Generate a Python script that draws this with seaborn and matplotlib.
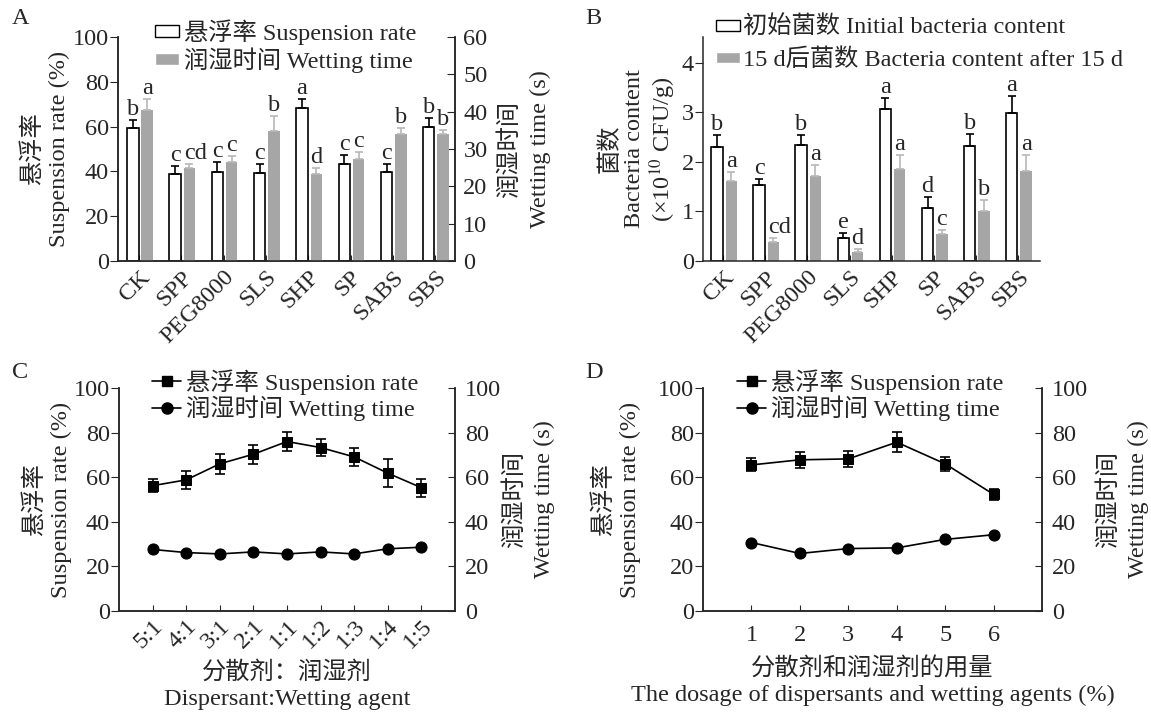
import numpy as np
import pandas as pd
import seaborn as sns
import matplotlib.pyplot as plt
from matplotlib.patches import Patch
from matplotlib.lines import Line2D

# Panel A / B categories
agents = ["CK", "SPP", "PEG8000", "SLS", "SHP", "SP", "SABS", "SBS"]

# A - suspension rate (%) and wetting time (s)
susp_a = [59.2, 38.7, 39.7, 39.3, 68.2, 43.2, 39.7, 59.6]
susp_a_err = [3.6, 3.7, 4.5, 3.9, 4.3, 4.0, 3.5, 4.2]
susp_a_let = ["b", "c", "c", "c", "a", "c", "c", "b"]
wet_a = [40.4, 24.9, 26.4, 34.9, 23.3, 27.4, 34.0, 34.0]
wet_a_err = [2.9, 1.0, 1.7, 4.0, 1.5, 1.9, 1.5, 1.2]
wet_a_let = ["a", "cd", "c", "b", "d", "c", "b", "b"]

# B - bacteria content (x10^10 CFU/g)
bact_init = [2.31, 1.53, 2.35, 0.47, 3.06, 1.06, 2.33, 2.98]
bact_init_err = [0.24, 0.13, 0.20, 0.10, 0.23, 0.24, 0.24, 0.34]
bact_init_let = ["b", "c", "b", "e", "a", "d", "b", "a"]
bact_15d = [1.61, 0.38, 1.71, 0.18, 1.86, 0.54, 1.00, 1.81]
bact_15d_err = [0.19, 0.08, 0.22, 0.07, 0.27, 0.08, 0.24, 0.32]
bact_15d_let = ["a", "cd", "a", "d", "a", "c", "b", "a"]

# C - dispersant : wetting agent ratio
ratios = ["5:1", "4:1", "3:1", "2:1", "1:1", "1:2", "1:3", "1:4", "1:5"]
susp_c = [56.2, 58.8, 66.0, 70.3, 76.0, 73.3, 69.1, 61.8, 55.3]
susp_c_err = [3.0, 4.2, 4.6, 4.3, 4.2, 3.8, 4.0, 6.2, 4.0]
wet_c = [27.6, 26.2, 25.6, 26.5, 25.6, 26.5, 25.6, 27.9, 28.6]

# D - dosage (%)
dosage = [1, 2, 3, 4, 5, 6]
susp_d = [65.5, 67.8, 68.2, 75.7, 66.0, 52.3]
susp_d_err = [2.9, 3.7, 3.6, 4.4, 3.1, 2.3]
wet_d = [30.7, 25.8, 28.0, 28.3, 32.1, 34.2]

sns.set_style("ticks")
plt.rcParams["font.family"] = ["Liberation Serif", "Noto Sans CJK SC"]
plt.rcParams["mathtext.fontset"] = "stix"
plt.rcParams["font.size"] = 17.5
plt.rcParams["axes.linewidth"] = 1.1

GRAY = "#a6a6a6"
FS = 17.5

fig = plt.figure(figsize=(11.51, 7.13), dpi=100)
W, H = 1151, 713


def px_axes(left, top, right, bottom):
    return fig.add_axes([left / W, 1 - bottom / H, (right - left) / W, (bottom - top) / H])


def letters(ax, xs, tops, labs, half):
    # single letters centred on the bar, two-letter ones start at the bar's left edge
    for x, t, lab in zip(xs, tops, labs):
        if len(lab) > 1:
            ax.annotate(lab, (x - half, t), xytext=(0, 0), textcoords="offset points",
                        ha="left", va="bottom", fontsize=FS)
        else:
            ax.annotate(lab, (x, t), xytext=(0, 0), textcoords="offset points",
                        ha="center", va="bottom", fontsize=FS)


idx = np.arange(len(agents))
off_w, off_g, bw = -0.15, 0.19, 0.27

# ---------- A ----------
axA = px_axes(118, 37, 455, 261)
sns.barplot(x=idx + off_w, y=susp_a, native_scale=True, width=bw, color="white",
            saturation=1, edgecolor="black", linewidth=1.2, errorbar=None, ax=axA)
axA.errorbar(idx + off_w, susp_a, yerr=[np.zeros(8), susp_a_err], fmt="none",
             ecolor="black", elinewidth=1.2, capsize=3, capthick=1.2)
axA.set_ylim(0, 100)
axA.set_yticks(range(0, 101, 20))
axA.set_xlim(-0.5, 7.47)
axA.set_xticks(idx)
axA.set_xticklabels(agents, rotation=45, ha="right", rotation_mode="anchor")
axA.set_ylabel("悬浮率\nSuspension rate (%)", linespacing=1.3, labelpad=2)
letters(axA, idx + off_w, np.array(susp_a) + np.array(susp_a_err), susp_a_let, bw / 2)

axA2 = axA.twinx()
sns.barplot(x=idx + off_g, y=wet_a, native_scale=True, width=bw, color=GRAY,
            saturation=1, linewidth=0, errorbar=None, ax=axA2)
axA2.errorbar(idx + off_g, wet_a, yerr=[np.zeros(8), wet_a_err], fmt="none",
              ecolor="#b8b8b8", elinewidth=1.2, capsize=3, capthick=1.2)
axA2.set_ylim(0, 60)
axA2.set_yticks(range(0, 61, 10))
axA2.set_xlim(-0.5, 7.47)
axA2.set_xticks(idx)
axA2.set_ylabel("润湿时间\nWetting time (s)", rotation=90, linespacing=1.55, labelpad=8)
letters(axA2, idx + off_g, np.array(wet_a) + np.array(wet_a_err), wet_a_let, bw / 2)

for a in (axA, axA2):
    a.spines["top"].set_visible(False)
axA.tick_params(axis="y", direction="out", length=6, labelsize=FS, pad=0.5)
axA.tick_params(axis="x", direction="in", length=4, labelsize=FS, pad=4)
axA2.tick_params(axis="y", direction="in", length=6, labelsize=FS, pad=6)
axA2.legend([Patch(facecolor="white", edgecolor="black"), Patch(facecolor=GRAY)],
            ["悬浮率 Suspension rate", "润湿时间 Wetting time"],
            loc="upper left", bbox_to_anchor=(155 / W, 1 - 19 / H), bbox_transform=fig.transFigure,
            frameon=False, fontsize=FS, handlelength=1.0, handleheight=0.35,
            handletextpad=0.2, labelspacing=0.1, borderpad=0, borderaxespad=0)

# ---------- B ----------
axB = px_axes(703, 37, 1040, 261)
sns.barplot(x=idx + off_w, y=bact_init, native_scale=True, width=bw, color="white",
            saturation=1, edgecolor="black", linewidth=1.2, errorbar=None, ax=axB)
axB.errorbar(idx + off_w, bact_init, yerr=[np.zeros(8), bact_init_err], fmt="none",
             ecolor="black", elinewidth=1.2, capsize=3, capthick=1.2)
sns.barplot(x=idx + off_g, y=bact_15d, native_scale=True, width=bw, color=GRAY,
            saturation=1, linewidth=0, errorbar=None, ax=axB)
axB.errorbar(idx + off_g, bact_15d, yerr=[np.zeros(8), bact_15d_err], fmt="none",
             ecolor="#b8b8b8", elinewidth=1.2, capsize=3, capthick=1.2)
axB.set_ylim(0, 4.52)
axB.set_yticks(range(0, 5))
axB.set_xlim(-0.48, 7.52)
axB.set_xticks(idx)
axB.set_xticklabels(agents, rotation=45, ha="right", rotation_mode="anchor")
axB.set_ylabel("菌数\nBacteria content\n(×10$^{10}$ CFU/g)", linespacing=1.1, labelpad=3)
letters(axB, idx + off_w, np.array(bact_init) + np.array(bact_init_err), bact_init_let, bw / 2)
letters(axB, idx + off_g, np.array(bact_15d) + np.array(bact_15d_err), bact_15d_let, bw / 2)
axB.spines["top"].set_visible(False)
axB.spines["right"].set_visible(False)
axB.tick_params(axis="y", direction="out", length=6, labelsize=FS, pad=0.5)
axB.tick_params(axis="x", direction="in", length=4, labelsize=FS, pad=4)
axB.legend([Patch(facecolor="white", edgecolor="black"), Patch(facecolor=GRAY)],
           ["初始菌数 Initial bacteria content", "15 d后菌数 Bacteria content after 15 d"],
           loc="upper left", bbox_to_anchor=(716 / W, 1 - 16 / H), bbox_transform=fig.transFigure,
           frameon=False, fontsize=FS, handlelength=1.0, handleheight=0.35,
           handletextpad=0.1, labelspacing=0.4, borderpad=0, borderaxespad=0)


# ---------- C and D (line charts) ----------
def line_panel(ax, xs, susp, susp_err, wet, xlim, lpad, rpad):
    sns.lineplot(x=xs, y=susp, marker="s", markersize=7, color="black", linewidth=1.2,
                 markeredgecolor="black", ax=ax)
    ax.errorbar(xs, susp, yerr=susp_err, fmt="none", ecolor="black",
                elinewidth=1.2, capsize=3.5, capthick=1.2)
    ax.set_ylim(0, 100)
    ax.set_yticks(range(0, 101, 20))
    ax.set_xlim(*xlim)
    ax.set_ylabel("悬浮率\nSuspension rate (%)", linespacing=1.3, labelpad=lpad)
    ax2 = ax.twinx()
    sns.lineplot(x=xs, y=wet, marker="o", markersize=8, color="black", linewidth=1.2,
                 markeredgecolor="black", ax=ax2)
    ax2.set_ylim(0, 100)
    ax2.set_yticks(range(0, 101, 20))
    ax2.set_ylabel("润湿时间\nWetting time (s)", rotation=90, linespacing=1.5, labelpad=rpad)
    for a in (ax, ax2):
        a.spines["top"].set_visible(False)
    ax.tick_params(axis="y", direction="out", length=6, labelsize=FS, pad=0.5)
    ax.tick_params(axis="x", direction="in", length=4, labelsize=FS)
    ax2.tick_params(axis="y", direction="in", length=5, labelsize=FS, pad=7)
    return ax2


axC = px_axes(119, 388, 455, 611)
pos_c = np.arange(len(ratios))
axC2 = line_panel(axC, pos_c, susp_c, susp_c_err, wet_c, (-1, 9), 1, 2)
axC.set_xticks(pos_c)
axC.set_xticklabels(ratios, rotation=45, ha="right", rotation_mode="anchor")
axC.set_xlabel("分散剂：润湿剂\nDispersant:Wetting agent", linespacing=1.3, labelpad=6)

axD = px_axes(703, 388, 1042, 611)
axD2 = line_panel(axD, dosage, susp_d, susp_d_err, wet_d, (0, 7), 12, 7)
axD.set_xticks(dosage)
axD.tick_params(axis="x", pad=10)
axD.set_xlabel("分散剂和润湿剂的用量\nThe dosage of dispersants and wetting agents (%)",
               linespacing=1.3, labelpad=8)

line_handles = [Line2D([], [], color="black", marker="s", markersize=7, linewidth=1.2),
                Line2D([], [], color="black", marker="o", markersize=8, linewidth=1.2)]
line_labels = ["悬浮率 Suspension rate", "润湿时间 Wetting time"]
for a, x0 in ((axC2, 152), (axD2, 737)):
    a.legend(line_handles, line_labels, loc="upper left",
             bbox_to_anchor=(x0 / W, 1 - 369 / H), bbox_transform=fig.transFigure,
             frameon=False, fontsize=FS, handlelength=1.2, handletextpad=0.2,
             labelspacing=0.05, borderpad=0, borderaxespad=0)

# panel letters
for lab, x, y in (("A", 12, 8), ("B", 585, 8), ("C", 12, 362), ("D", 585, 362)):
    fig.text(x / W, 1 - y / H, lab, fontsize=FS, ha="left", va="top")

fig.savefig("out.png", dpi=100)
